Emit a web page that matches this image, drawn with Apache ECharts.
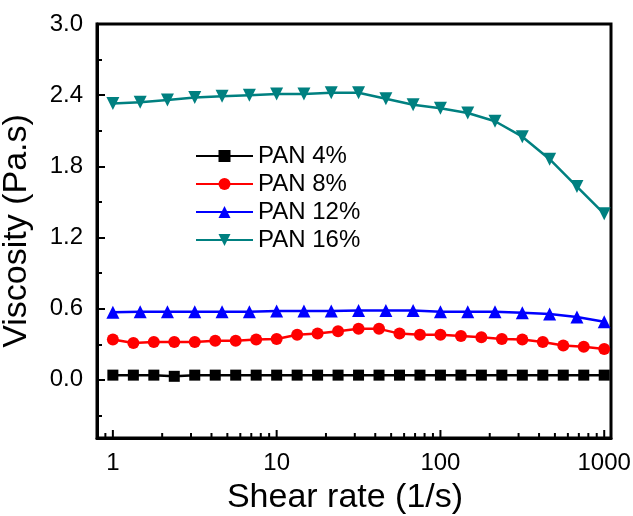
<!DOCTYPE html>
<html>
<head>
<meta charset="utf-8">
<script src="https://cdn.jsdelivr.net/npm/echarts@6/dist/echarts.min.js"></script>
<style>
  html, body { margin: 0; padding: 0; background: #fff; }
  #main { width: 633px; height: 516px; }
</style>
</head>
<body>
<div id="main"></div>
<script>
// shear rates (1/s), two sampling densities
const rateFine = [1, 1.334, 1.778, 2.371, 3.162, 4.217, 5.623, 7.499, 10, 13.34, 17.78, 23.71, 31.62,
  42.17, 56.23, 74.99, 100, 133.4, 177.8, 237.1, 316.2, 421.7, 562.3, 749.9, 1000];
const rateCoarse = [1, 1.468, 2.154, 3.162, 4.642, 6.813, 10, 14.68, 21.54, 31.62, 46.42, 68.13,
  100, 146.8, 215.4, 316.2, 464.2, 681.3, 1000];

// viscosity (Pa.s)
const pan4 = [0.04, 0.04, 0.04, 0.03, 0.04, 0.04, 0.04, 0.04, 0.04, 0.04, 0.04, 0.04, 0.04,
  0.04, 0.04, 0.04, 0.04, 0.04, 0.04, 0.04, 0.04, 0.04, 0.04, 0.04, 0.04];
const pan8 = [0.34, 0.31, 0.32, 0.32, 0.32, 0.33, 0.33, 0.34, 0.345, 0.38, 0.39, 0.41, 0.43,
  0.43, 0.39, 0.38, 0.38, 0.37, 0.36, 0.345, 0.34, 0.32, 0.29, 0.28, 0.26];
const pan12 = [0.57, 0.575, 0.575, 0.575, 0.575, 0.575, 0.58, 0.58, 0.58, 0.585, 0.585, 0.585,
  0.575, 0.575, 0.575, 0.565, 0.555, 0.53, 0.49];
const pan16 = [2.33, 2.34, 2.36, 2.38, 2.39, 2.40, 2.41, 2.41, 2.42, 2.42, 2.37, 2.32,
  2.29, 2.25, 2.18, 2.05, 1.86, 1.63, 1.40];

const seriesNames = ["PAN 4%", "PAN 8%", "PAN 12%", "PAN 16%"];

// axis ticks
const xTicks = [1, 10, 100, 1000];
const xMinorTicks = [0.9, 2, 3, 4, 5, 6, 7, 8, 9, 20, 30, 40, 50, 60, 70, 80, 90,
  200, 300, 400, 500, 600, 700, 800, 900];
const yTicks = [0, 0.6, 1.2, 1.8, 2.4, 3.0];
const yMinorTicks = [-0.3, 0.3, 0.9, 1.5, 2.1, 2.7];

const X_MIN = 0.8, X_MAX = 1100;
const Y_MIN = -0.49, Y_MAX = 3.0;

const pairs = (xs, ys) => xs.map((x, i) => [x, ys[i]]);

const font = "Liberation Sans, Arial, sans-serif";

// inward tick marks on the log axis, placed through the axis scale
function tickSeries(values, len) {
  return {
    type: "custom",
    silent: true,
    clip: false,
    z: 5,
    data: values.map(v => [v, Y_MIN]),
    renderItem: (params, api) => {
      const p = api.coord([api.value(0), api.value(1)]);
      return {
        type: "line",
        shape: { x1: p[0], y1: p[1], x2: p[0], y2: p[1] - len },
        style: { stroke: "#000", lineWidth: 2 },
      };
    },
  };
}

const myChart = echarts.init(document.getElementById("main"));
const option = {
  animation: false,
  grid: {
    left: 97,
    right: 22,
    top: 24,
    bottom: 78,
    outerBoundsMode: "none",
    show: true,
    borderColor: "#000",
    borderWidth: 3,
  },
  legend: {
    orient: "vertical",
    left: 190,
    top: 139,
    itemWidth: 57,
    itemHeight: 15,
    itemGap: 4,
    textStyle: { fontFamily: font, fontSize: 24, color: "#000" },
    data: seriesNames,
  },
  xAxis: {
    type: "log",
    logBase: 10,
    min: X_MIN,
    max: X_MAX,
    name: "Shear rate (1/s)",
    nameLocation: "middle",
    nameGap: 43,
    nameTextStyle: { fontFamily: font, fontSize: 34, color: "#000", padding: [0, 18, 0, 0] },
    axisLine: { show: true, onZero: false, lineStyle: { color: "#000", width: 3 } },
    axisTick: { show: false },
    axisLabel: {
      customValues: xTicks,
      margin: 13,
      fontFamily: font,
      fontSize: 24,
      color: "#000",
      formatter: v => String(Math.round(v)),
    },
    splitLine: { show: false },
  },
  yAxis: [
    {
      type: "value",
      min: Y_MIN,
      max: Y_MAX,
      name: "Viscosity (Pa.s)",
      nameLocation: "middle",
      nameGap: 63,
      nameTextStyle: { fontFamily: font, fontSize: 34, color: "#000" },
      axisLine: { show: true, onZero: false, lineStyle: { color: "#000", width: 3 } },
      axisTick: { show: true, inside: true, length: 8, customValues: yTicks, lineStyle: { color: "#000", width: 2 } },
      axisLabel: {
        customValues: yTicks,
        margin: 14,
        fontFamily: font,
        fontSize: 24,
        color: "#000",
        formatter: v => v.toFixed(1),
      },
      splitLine: { show: false },
    },
    {
      type: "value",
      min: Y_MIN,
      max: Y_MAX,
      position: "left",
      axisLine: { show: false },
      axisTick: { show: true, inside: true, length: 5, customValues: yMinorTicks, lineStyle: { color: "#000", width: 2 } },
      axisLabel: { show: false },
      splitLine: { show: false },
    },
  ],
  series: [
    {
      name: seriesNames[0],
      type: "line",
      data: pairs(rateFine, pan4),
      symbol: "rect",
      symbolSize: 11,
      color: "#000000",
      lineStyle: { width: 2.5 },
    },
    {
      name: seriesNames[1],
      type: "line",
      data: pairs(rateFine, pan8),
      symbol: "circle",
      symbolSize: 12,
      color: "#ff0000",
      lineStyle: { width: 2.5 },
    },
    {
      name: seriesNames[2],
      type: "line",
      data: pairs(rateCoarse, pan12),
      symbol: "triangle",
      symbolSize: 13,
      color: "#0000ff",
      lineStyle: { width: 2.5 },
    },
    {
      name: seriesNames[3],
      type: "line",
      data: pairs(rateCoarse, pan16),
      symbol: "triangle",
      symbolRotate: 180,
      symbolSize: 13,
      color: "#008080",
      lineStyle: { width: 2.5 },
    },
    tickSeries(xTicks, 8),
    tickSeries(xMinorTicks, 5),
  ],
};
myChart.setOption(option);
window.addEventListener("resize", () => {
  myChart.resize();
});
</script>
</body>
</html>
